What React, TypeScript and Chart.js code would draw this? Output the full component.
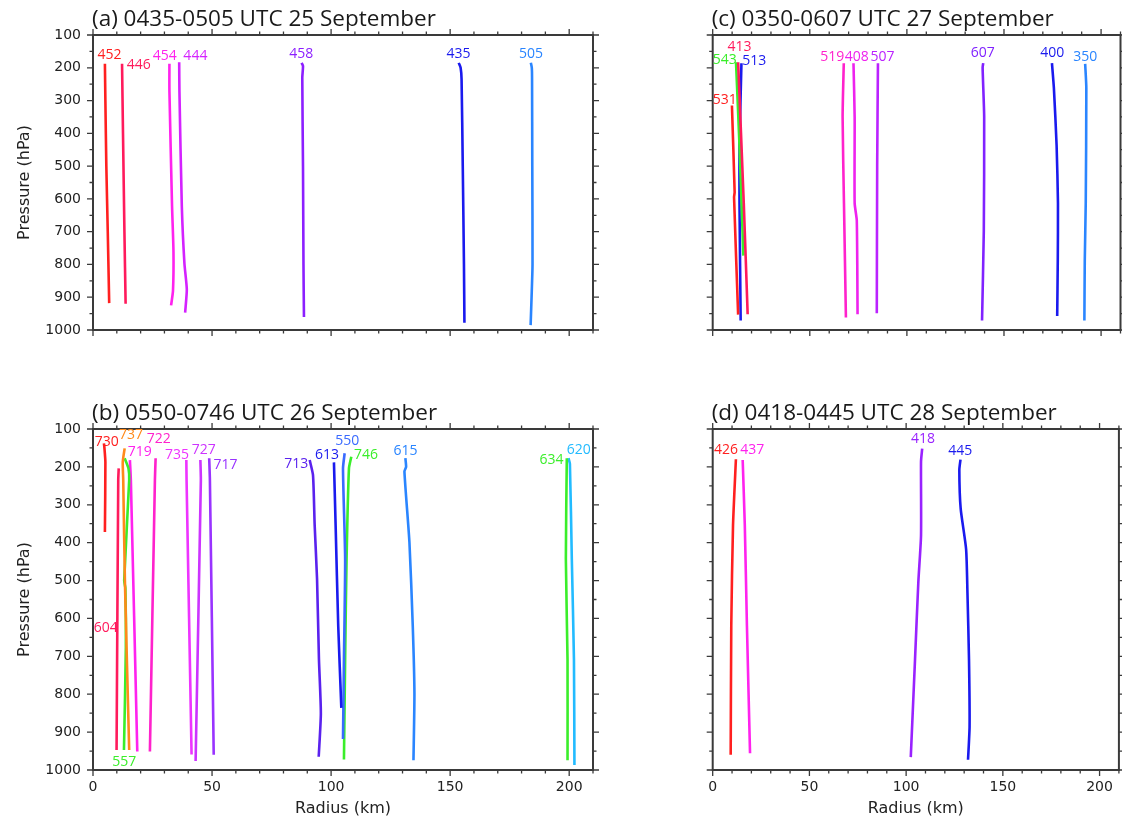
import React, { useEffect, useRef } from 'react';
import { Chart, registerables } from 'chart.js';

Chart.register(...registerables);

// ---------- axes ----------
const X_MIN = 0;
const X_MAX = 210;
const Y_MIN = 100;
const Y_MAX = 1000;
const X_MINOR = 10;
const Y_MINOR = 50;
const X_TICKS = [0, 50, 100, 150, 200];
const Y_TICKS = [100, 200, 300, 400, 500, 600, 700, 800, 900, 1000];
const X_TITLE = 'Radius (km)';
const Y_TITLE = 'Pressure (hPa)';

// ---------- colours ----------
const RED = '#ff2020';
const CRIMSON = '#ff1a5c';
const ORANGE = '#ff8a1a';
const GREEN = '#3aee2a';
const PINK = '#ff22cc';
const MAGENTA = '#ff22ee';
const ORCHID = '#d422ff';
const VIOLET = '#8c1fff';
const INDIGO = '#5a22ee';
const BLUE = '#1a1aee';
const MBLUE = '#3a6aff';
const AZURE = '#2a85ff';
const CYAN = '#22bbff';

// ---------- panel (a) ----------
const A_TITLE = '(a) 0435-0505 UTC 25 September';
const A_IDS = ['452', '446', '454', '444', '458', '435', '505'];
const A_PRES = [
  [188, 300, 500, 700, 918],
  [188, 400, 700, 920],
  [188, 271, 622, 762, 880, 925],
  [183, 271, 622, 797, 876, 947],
  [185, 195, 230, 500, 800, 960],
  [185, 200, 235, 500, 800, 978],
  [185, 200, 230, 500, 800, 900, 985],
];
const A_RAD = [
  [5.0, 5.2, 5.6, 6.2, 6.8],
  [12.2, 12.6, 13.2, 13.7],
  [32.1, 32.1, 33.2, 33.8, 33.6, 32.8],
  [36.2, 36.3, 37.3, 38.4, 39.4, 38.7],
  [87.6, 88.2, 87.9, 88.2, 88.4, 88.6],
  [153.6, 154.4, 154.8, 155.3, 155.8, 156.0],
  [183.9, 184.3, 184.4, 184.5, 184.6, 184.2, 183.8],
];
const A_LABEL_R = [6.9, 19.2, 30.1, 43.0, 87.5, 153.5, 184.0];
const A_LABEL_P = [161, 192, 163, 163, 157, 159, 159];
const A_COLORS = [RED, CRIMSON, MAGENTA, ORCHID, VIOLET, BLUE, AZURE];

// ---------- panel (b) ----------
const B_TITLE = '(b) 0550-0746 UTC 26 September';
const B_IDS = ['730', '604', '737', '557', '719', '722', '735', '727', '717', '713', '613', '550', '746', '615', '634', '620'];
const B_PRES = [
  [138, 150, 187, 372],
  [204, 235, 947],
  [151, 187, 235, 500, 947],
  [177, 204, 235, 500, 520, 677, 947],
  [182, 235, 951],
  [177, 235, 951],
  [182, 235, 959],
  [182, 235, 976],
  [177, 235, 960],
  [182, 222, 354, 496, 708, 850, 965],
  [188, 354, 620, 836],
  [164, 204, 443, 708, 918],
  [173, 204, 443, 708, 972],
  [177, 200, 212, 399, 620, 797, 974],
  [177, 443, 708, 974],
  [177, 192, 443, 708, 987],
];
const B_RAD = [
  [4.6, 4.8, 5.2, 5.0],
  [10.8, 10.6, 9.9],
  [13.3, 12.5, 12.7, 13.4, 15.2],
  [13.3, 14.9, 15.2, 13.1, 13.6, 13.8, 13.0],
  [15.5, 15.9, 18.6],
  [26.3, 26.0, 23.9],
  [39.2, 39.3, 41.4],
  [45.1, 45.3, 43.1],
  [48.8, 49.1, 50.7],
  [91.0, 92.4, 93.1, 94.1, 94.9, 95.7, 94.8],
  [101.2, 101.9, 103.0, 104.3],
  [105.7, 105.0, 105.9, 105.4, 105.0],
  [108.5, 107.5, 106.5, 105.9, 105.4],
  [131.2, 131.5, 130.8, 132.9, 134.3, 135.0, 134.6],
  [199.0, 198.6, 199.3, 199.3],
  [199.7, 200.3, 201.1, 202.0, 202.2],
];
const B_LABEL_R = [5.8, 5.4, 16.0, 13.1, 19.6, 27.6, 35.3, 46.5, 55.7, 85.4, 98.3, 106.8, 114.7, 131.3, 192.6, 204.0];
const B_LABEL_P = [134, 624, 116, 978, 162, 127, 169, 156, 194, 193, 169, 131, 169, 157, 183, 155];
const B_COLORS = [RED, CRIMSON, ORANGE, GREEN, MAGENTA, PINK, '#ee33ff', '#cc33ff', '#9933ff', INDIGO, BLUE, MBLUE, GREEN, AZURE, GREEN, CYAN];

// ---------- panel (c) ----------
const C_TITLE = '(c) 0350-0607 UTC 27 September';
const C_IDS = ['531', '413', '543', '513', '519', '408', '507', '607', '400', '350'];
const C_PRES = [
  [315, 580, 595, 953],
  [183, 613, 952],
  [183, 438, 773],
  [186, 438, 613, 971],
  [186, 350, 613, 962],
  [186, 350, 613, 666, 952],
  [186, 500, 949],
  [186, 200, 350, 700, 971],
  [186, 262, 438, 613, 789, 957],
  [188, 262, 613, 789, 971],
];
const C_RAD = [
  [9.9, 11.3, 11.0, 13.1],
  [13.1, 16.0, 18.0],
  [12.0, 13.8, 15.8],
  [14.8, 13.8, 13.8, 14.4],
  [67.5, 66.9, 67.6, 68.6],
  [72.5, 73.1, 73.1, 74.2, 74.6],
  [85.1, 84.7, 84.5],
  [139.3, 139.0, 139.8, 139.6, 138.7],
  [174.7, 175.7, 177.1, 177.8, 177.7, 177.4],
  [191.8, 192.4, 192.1, 191.6, 191.4],
];
const C_LABEL_R = [6.2, 13.8, 6.2, 21.4, 61.6, 74.2, 87.4, 139.1, 174.8, 191.8];
const C_LABEL_P = [297, 137, 175, 179, 166, 166, 166, 155, 156, 166];
const C_COLORS = [RED, CRIMSON, GREEN, BLUE, PINK, '#ee22ee', '#bb22ff', '#8022ff', BLUE, AZURE];

// ---------- panel (d) ----------
const D_TITLE = '(d) 0418-0445 UTC 28 September';
const D_IDS = ['426', '437', '418', '445'];
const D_PRES = [
  [180, 355, 620, 960],
  [182, 355, 620, 956],
  [152, 186, 381, 505, 708, 966],
  [181, 208, 310, 417, 532, 708, 885, 973],
];
const D_RAD = [
  [12.0, 10.5, 9.6, 9.3],
  [15.5, 16.6, 17.7, 19.3],
  [108.3, 107.7, 107.7, 106.3, 104.6, 102.4],
  [128.1, 127.5, 128.2, 131.0, 131.7, 132.5, 132.8, 132.0],
];
const D_LABEL_R = [6.9, 20.4, 108.7, 128.0];
const D_LABEL_P = [156, 156, 126, 158];
const D_COLORS = [RED, MAGENTA, '#9922ff', BLUE];

type PanelDef = {
  title: string;
  ids: string[];
  pres: number[][];
  rad: number[][];
  labelR: number[];
  labelP: number[];
  colors: string[];
  left: number;
  top: number;
  w: number;
  h: number;
  pad: { top: number; right: number; bottom: number; left: number };
  yLabels: boolean;
  xLabels: boolean;
};

const PANELS: PanelDef[] = [
  { title: A_TITLE, ids: A_IDS, pres: A_PRES, rad: A_RAD, labelR: A_LABEL_R, labelP: A_LABEL_P, colors: A_COLORS,
    left: 0, top: 0, w: 600, h: 400, pad: { top: 35, right: 7, bottom: 23, left: 0 }, yLabels: true, xLabels: false },
  { title: B_TITLE, ids: B_IDS, pres: B_PRES, rad: B_RAD, labelR: B_LABEL_R, labelP: B_LABEL_P, colors: B_COLORS,
    left: 0, top: 400, w: 600, h: 417, pad: { top: 29, right: 7, bottom: 0, left: 0 }, yLabels: true, xLabels: true },
  { title: C_TITLE, ids: C_IDS, pres: C_PRES, rad: C_RAD, labelR: C_LABEL_R, labelP: C_LABEL_P, colors: C_COLORS,
    left: 600, top: 0, w: 522, h: 400, pad: { top: 35, right: 1.5, bottom: 23, left: 19.7 }, yLabels: false, xLabels: false },
  { title: D_TITLE, ids: D_IDS, pres: D_PRES, rad: D_RAD, labelR: D_LABEL_R, labelP: D_LABEL_P, colors: D_COLORS,
    left: 600, top: 400, w: 522, h: 417, pad: { top: 29, right: 1.5, bottom: 0, left: 19.7 }, yLabels: false, xLabels: true },
];

const AXIS_FONT = 'DejaVu Sans';
const LABEL_FONT = 'Open Sans';

function Panel({ def }: { def: PanelDef }) {
  const ref = useRef<HTMLCanvasElement>(null);

  useEffect(() => {
    const canvas = ref.current;
    if (!canvas) return;

    const datasets = def.ids.map((id, i) => ({
      label: id,
      data: def.pres[i].map((p, k) => ({ x: def.rad[i][k], y: p })),
      borderColor: def.colors[i],
      backgroundColor: def.colors[i],
      borderWidth: 2.6,
      pointRadius: 0,
      showLine: true,
      tension: 0.2,
      fill: false,
    }));

    const decor = {
      id: 'decor' + def.title.charAt(1),
      afterDraw(chart: any) {
        const { ctx, chartArea: a, scales } = chart;
        const xs = scales.x;
        const ys = scales.y;
        ctx.save();
        ctx.strokeStyle = '#3a3a3a';
        ctx.lineWidth = 1.3;
        ctx.beginPath();
        for (let v = X_MIN; v <= X_MAX; v += X_MINOR) {
          const px = xs.getPixelForValue(v);
          const len = X_TICKS.includes(v) ? 6 : 3.5;
          ctx.moveTo(px, a.bottom);
          ctx.lineTo(px, a.bottom + len);
          ctx.moveTo(px, a.top);
          ctx.lineTo(px, a.top - len);
        }
        for (let v = Y_MIN; v <= Y_MAX; v += Y_MINOR) {
          const py = ys.getPixelForValue(v);
          const len = Y_TICKS.includes(v) ? 6 : 3.5;
          ctx.moveTo(a.left, py);
          ctx.lineTo(a.left - len, py);
          ctx.moveTo(a.right, py);
          ctx.lineTo(a.right + len, py);
        }
        ctx.stroke();
        ctx.lineWidth = 2;
        ctx.strokeRect(a.left, a.top, a.right - a.left, a.bottom - a.top);

        // series labels
        ctx.font = `14px "${LABEL_FONT}"`;
        ctx.textAlign = 'center';
        ctx.textBaseline = 'middle';
        def.ids.forEach((id, i) => {
          ctx.fillStyle = def.colors[i];
          ctx.fillText(id, xs.getPixelForValue(def.labelR[i]), ys.getPixelForValue(def.labelP[i]));
        });

        // panel title
        ctx.fillStyle = '#1a1a1a';
        ctx.font = `22.5px "${LABEL_FONT}"`;
        ctx.textAlign = 'left';
        ctx.textBaseline = 'alphabetic';
        ctx.fillText(def.title, a.left - 1, a.top - 9);
        ctx.restore();
      },
    };

    const chart = new Chart(canvas, {
      type: 'scatter',
      data: { datasets: datasets as any },
      options: {
        animation: false,
        responsive: false,
        layout: { padding: def.pad },
        plugins: {
          legend: { display: false },
          tooltip: { enabled: false },
          title: { display: false },
        },
        scales: {
          x: {
            type: 'linear',
            min: X_MIN,
            max: X_MAX,
            display: def.xLabels,
            grid: { display: false, drawTicks: false },
            border: { display: false },
            ticks: {
              padding: 9,
              color: '#222',
              font: { family: AXIS_FONT, size: 14 },
              maxRotation: 0,
              autoSkip: false,
              callback: (v: any) => String(v),
            },
            afterBuildTicks: (s: any) => {
              s.ticks = X_TICKS.map((v) => ({ value: v }));
            },
            afterFit: (s: any) => {
              s.height = 47;
            },
            title: {
              display: true,
              text: X_TITLE,
              color: '#222',
              font: { family: AXIS_FONT, size: 16, lineHeight: 1 },
              padding: { top: 0, bottom: 0 },
            },
          },
          y: {
            type: 'linear',
            min: Y_MIN,
            max: Y_MAX,
            reverse: true,
            display: def.yLabels,
            grid: { display: false, drawTicks: false },
            border: { display: false },
            ticks: {
              padding: 12,
              color: '#222',
              autoSkip: false,
              font: { family: AXIS_FONT, size: 14 },
              callback: (v: any) => String(v),
            },
            afterBuildTicks: (s: any) => {
              s.ticks = Y_TICKS.map((v) => ({ value: v }));
            },
            afterFit: (s: any) => {
              s.width = 93;
            },
            title: {
              display: true,
              text: Y_TITLE,
              color: '#222',
              font: { family: AXIS_FONT, size: 16, lineHeight: 1 },
              padding: { top: 17, bottom: 0 },
            },
          },
        },
      },
      plugins: [decor],
    });

    return () => chart.destroy();
  }, [def]);

  return (
    <div style={{ position: 'absolute', left: def.left, top: def.top, width: def.w, height: def.h }}>
      <canvas ref={ref} width={def.w} height={def.h} style={{ width: def.w, height: def.h, display: 'block' }} />
    </div>
  );
}

export default function App() {
  return (
    <div style={{ position: 'absolute', left: 0, top: 0, width: 1122, height: 817, background: '#fff', overflow: 'hidden' }}>
      {PANELS.map((p) => (
        <Panel key={p.title} def={p} />
      ))}
    </div>
  );
}
